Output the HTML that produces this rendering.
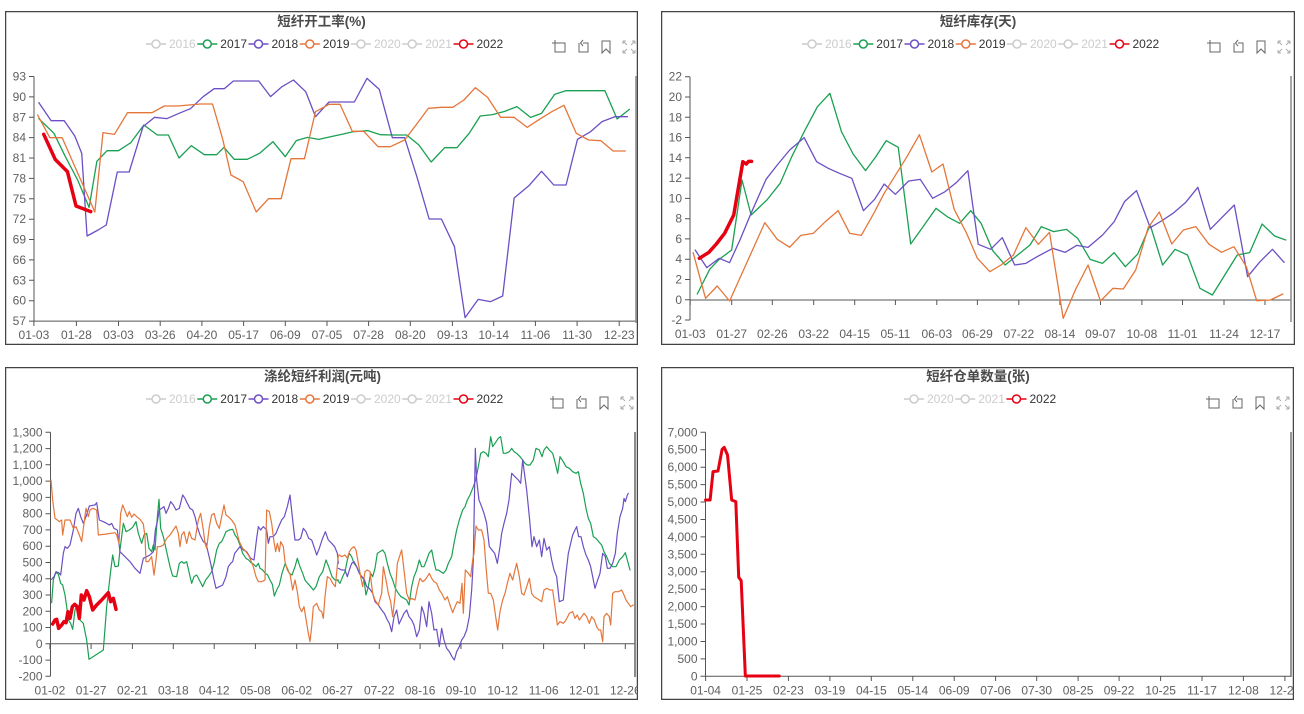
<!DOCTYPE html>
<html>
<head>
<meta charset="utf-8">
<style>
html,body{margin:0;padding:0;background:#fff;}
svg{display:block;}
.t{font-family:"Liberation Sans","Noto Sans CJK SC",sans-serif;font-size:13.5px;font-weight:bold;fill:#4a4a4a;text-anchor:middle;}
.ax{font-family:"Liberation Sans",sans-serif;font-size:12px;fill:#606060;}
.lg{font-family:"Liberation Sans",sans-serif;font-size:12px;}
.s{fill:none;stroke-linejoin:round;stroke-linecap:round;}
</style>
</head>
<body>
<svg width="1304" height="714" viewBox="0 0 1304 714" xmlns="http://www.w3.org/2000/svg">
<defs>
<clipPath id="c1"><rect x="5" y="11" width="633" height="334"/></clipPath>
<clipPath id="c2"><rect x="661" y="11" width="634" height="334"/></clipPath>
<clipPath id="c3"><rect x="5" y="367" width="633" height="333"/></clipPath>
<clipPath id="c4"><rect x="661" y="367" width="633" height="333"/></clipPath>
<g id="tb" fill="none" stroke-width="1">
<path d="M-4,-7 V5 H6 V-4 H-7" stroke="#666"/>
<path d="M20,-4 V5 H29 V-4 H24 M24,-7 L21.5,-4 L24,-1" stroke="#666"/>
<path d="M43,-6 V6 L47,2 L51,6 V-6 Z" stroke="#666"/>
<path d="M64,-6 L68,-2 M64,-6 H67 M64,-6 V-3 M76,-6 L72,-2 M76,-6 H73 M76,-6 V-3 M64,6 L68,2 M64,6 H67 M64,6 V3 M76,6 L72,2 M76,6 H73 M76,6 V3" stroke="#aaa"/>
</g>
<g id="lgi">
<line x1="0" y1="0" x2="20" y2="0" stroke-width="1.5"/>
<circle cx="10" cy="0" r="4" fill="#fff" stroke-width="1.5"/>
</g>
</defs>

<!-- ================= PANEL 1 ================= -->
<g clip-path="url(#c1)">
<rect x="5.5" y="11.5" width="632" height="333" fill="#fff" stroke="#444" stroke-width="1.5"/>
<text class="t" x="321.5" y="26">短纤开工率(%)</text>
<!-- legend -->
<g class="lg">
<g stroke="#ccc" transform="translate(146,44)"><use href="#lgi"/></g><text x="169" y="48" fill="#ccc">2016</text>
<g stroke="#1aa052" transform="translate(197.3,44)"><use href="#lgi"/></g><text x="220.3" y="48" fill="#333">2017</text>
<g stroke="#6c4fc4" transform="translate(248.5,44)"><use href="#lgi"/></g><text x="271.5" y="48" fill="#333">2018</text>
<g stroke="#e5763a" transform="translate(299.8,44)"><use href="#lgi"/></g><text x="322.8" y="48" fill="#333">2019</text>
<g stroke="#ccc" transform="translate(351,44)"><use href="#lgi"/></g><text x="374" y="48" fill="#ccc">2020</text>
<g stroke="#ccc" transform="translate(402.2,44)"><use href="#lgi"/></g><text x="425.2" y="48" fill="#ccc">2021</text>
<g stroke="#e60012" transform="translate(453.5,44)"><use href="#lgi"/></g><text x="476.5" y="48" fill="#333">2022</text>
</g>
<use href="#tb" x="559" y="47"/>
<!-- axes -->
<g stroke="#555" stroke-width="1" fill="none">
<line x1="34" y1="76.5" x2="34" y2="321.1"/>
<line x1="34" y1="321.1" x2="636" y2="321.1"/>
<path d="M29,76.5H34 M29,96.9H34 M29,117.3H34 M29,137.6H34 M29,158H34 M29,178.4H34 M29,198.8H34 M29,219.2H34 M29,239.5H34 M29,259.9H34 M29,280.3H34 M29,300.7H34 M29,321.1H34"/>
<path d="M33.9,321V326 M76.4,321V326 M118.5,321V326 M160.2,321V326 M201.9,321V326 M243.6,321V326 M285.3,321V326 M327,321V326 M368.6,321V326 M410.3,321V326 M452.4,321V326 M493.7,321V326 M535.4,321V326 M577.1,321V326 M619.2,321V326"/>
</g>
<line x1="636" y1="76" x2="636" y2="323" stroke="#888" stroke-width="1.5"/>
<g class="ax" text-anchor="end">
<text x="26" y="80.5">93</text><text x="26" y="100.9">90</text><text x="26" y="121.3">87</text><text x="26" y="141.6">84</text><text x="26" y="162">81</text><text x="26" y="182.4">78</text><text x="26" y="202.8">75</text><text x="26" y="223.2">72</text><text x="26" y="243.5">69</text><text x="26" y="263.9">66</text><text x="26" y="284.3">63</text><text x="26" y="304.7">60</text><text x="26" y="325.1">57</text>
</g>
<g class="ax" text-anchor="middle">
<text x="33.9" y="339">01-03</text><text x="76.4" y="339">01-28</text><text x="118.5" y="339">03-03</text><text x="160.2" y="339">03-26</text><text x="201.9" y="339">04-20</text><text x="243.6" y="339">05-17</text><text x="285.3" y="339">06-09</text><text x="327" y="339">07-05</text><text x="368.6" y="339">07-28</text><text x="410.3" y="339">08-20</text><text x="452.4" y="339">09-13</text><text x="493.7" y="339">10-14</text><text x="535.4" y="339">11-06</text><text x="577.1" y="339">11-30</text><text x="619.2" y="339">12-23</text>
</g>
<g transform="matrix(0.4087,0,0,0.33333,0,0)">
<polyline class="s" vector-effect="non-scaling-stroke" stroke="#1aa052" stroke-width="1.3" points="95,356 132,400 160,470 190,540 218,622 237,484 262,452 290,452 320,428 352,375 385,405 412,405 438,474 468,437 500,464 530,464 548,442 573,478 605,478 635,460 668,425 698,470 725,422 752,412 780,418 810,410 840,402 865,395 900,392 930,404 960,405 995,405 1025,435 1055,486 1088,443 1118,443 1148,400 1175,348 1205,344 1235,334 1265,320 1298,352 1325,340 1357,283 1385,272 1480,272 1510,357 1540,328"/>
<polyline class="s" vector-effect="non-scaling-stroke" stroke="#6c4fc4" stroke-width="1.3" points="95,308 125,362 157,362 183,408 200,460 213,708 240,690 260,675 287,516 316,516 350,380 378,352 408,356 438,340 466,326 497,290 524,266 549,266 571,243 633,243 662,290 690,260 718,240 748,275 772,350 805,306 867,306 898,235 928,268 960,413 990,413 1020,530 1050,657 1080,657 1112,740 1138,953 1170,898 1200,905 1230,888 1258,594 1295,556 1325,514 1355,555 1385,555 1413,418 1445,395 1473,365 1505,350 1535,350"/>
<polyline class="s" vector-effect="non-scaling-stroke" stroke="#e5763a" stroke-width="1.3" points="92,345 122,413 152,413 232,636 252,398 280,403 312,338 345,338 372,338 402,318 435,318 490,312 520,312 545,418 565,525 595,545 627,636 657,596 688,596 712,476 745,476 772,335 805,313 832,313 862,394 890,394 925,440 955,440 990,420 1018,375 1048,325 1080,322 1108,322 1135,300 1163,263 1193,292 1225,352 1258,352 1290,382 1320,358 1350,335 1380,316 1410,400 1440,420 1470,422 1500,453 1530,453"/>
<polyline class="s" vector-effect="non-scaling-stroke" stroke="#e60012" stroke-width="3.5" points="107,403 135,478 165,515 186,618 222,635"/>
</g>
</g>

<!-- ================= PANEL 2 ================= -->
<g clip-path="url(#c2)">
<rect x="661.5" y="11.5" width="633" height="333" fill="#fff" stroke="#444" stroke-width="1.5"/>
<text class="t" x="978" y="26">短纤库存(天)</text>
<g class="lg">
<g stroke="#ccc" transform="translate(802,44)"><use href="#lgi"/></g><text x="825" y="48" fill="#ccc">2016</text>
<g stroke="#1aa052" transform="translate(853.3,44)"><use href="#lgi"/></g><text x="876.3" y="48" fill="#333">2017</text>
<g stroke="#6c4fc4" transform="translate(904.5,44)"><use href="#lgi"/></g><text x="927.5" y="48" fill="#333">2018</text>
<g stroke="#e5763a" transform="translate(955.8,44)"><use href="#lgi"/></g><text x="978.8" y="48" fill="#333">2019</text>
<g stroke="#ccc" transform="translate(1007,44)"><use href="#lgi"/></g><text x="1030" y="48" fill="#ccc">2020</text>
<g stroke="#ccc" transform="translate(1058.2,44)"><use href="#lgi"/></g><text x="1081.2" y="48" fill="#ccc">2021</text>
<g stroke="#e60012" transform="translate(1109.5,44)"><use href="#lgi"/></g><text x="1132.5" y="48" fill="#333">2022</text>
</g>
<use href="#tb" x="1214" y="47"/>
<g stroke="#555" stroke-width="1" fill="none">
<line x1="690" y1="76.7" x2="690" y2="320"/>
<line x1="690" y1="300" x2="1291" y2="300"/>
<path d="M685,76.7H690 M685,97H690 M685,117.3H690 M685,137.5H690 M685,157.8H690 M685,178.1H690 M685,198.4H690 M685,218.7H690 M685,238.9H690 M685,259.2H690 M685,279.5H690 M685,299.8H690 M685,320H690"/>
<path d="M690.2,300V305 M731.7,300V305 M772.3,300V305 M813.7,300V305 M854.7,300V305 M895.4,300V305 M936.8,300V305 M977.4,300V305 M1018.8,300V305 M1059.9,300V305 M1100.5,300V305 M1141.9,300V305 M1182.5,300V305 M1224,300V305 M1265,300V305"/>
</g>
<line x1="1291" y1="76" x2="1291" y2="322" stroke="#888" stroke-width="1.5"/>
<g class="ax" text-anchor="end">
<text x="682" y="80.7">22</text><text x="682" y="101">20</text><text x="682" y="121.3">18</text><text x="682" y="141.5">16</text><text x="682" y="161.8">14</text><text x="682" y="182.1">12</text><text x="682" y="202.4">10</text><text x="682" y="222.7">8</text><text x="682" y="242.9">6</text><text x="682" y="263.2">4</text><text x="682" y="283.5">2</text><text x="682" y="303.8">0</text><text x="682" y="324">-2</text>
</g>
<g class="ax" text-anchor="middle">
<text x="690.2" y="338">01-03</text><text x="731.7" y="338">01-27</text><text x="772.3" y="338">02-26</text><text x="813.7" y="338">03-22</text><text x="854.7" y="338">04-15</text><text x="895.4" y="338">05-11</text><text x="936.8" y="338">06-03</text><text x="977.4" y="338">06-29</text><text x="1018.8" y="338">07-22</text><text x="1059.9" y="338">08-14</text><text x="1100.5" y="338">09-07</text><text x="1141.9" y="338">10-08</text><text x="1182.5" y="338">11-01</text><text x="1224" y="338">11-24</text><text x="1265" y="338">12-17</text>
</g>
<g transform="matrix(0.4144,0,0,0.33333,655,0)">
<polyline class="s" vector-effect="non-scaling-stroke" stroke="#1aa052" stroke-width="1.3" points="102,882 132,808 155,778 185,750 210,540 232,645 270,600 302,550 330,470 360,395 392,320 422,280 450,395 478,462 508,512 533,470 558,422 587,442 617,732 647,680 678,625 705,650 735,670 762,632 787,670 815,752 845,795 870,770 905,735 932,680 962,695 993,688 1020,715 1050,778 1080,790 1108,758 1135,800 1165,762 1195,675 1225,795 1255,748 1285,765 1315,865 1345,885 1375,825 1405,765 1435,758 1465,672 1495,708 1522,720"/>
<polyline class="s" vector-effect="non-scaling-stroke" stroke="#6c4fc4" stroke-width="1.3" points="97,750 125,803 155,775 180,788 205,720 230,645 268,538 295,495 325,450 360,413 390,485 418,505 445,520 475,535 503,632 530,598 553,552 580,583 612,543 640,538 670,595 700,575 727,548 755,512 780,733 810,748 838,713 868,795 895,790 922,770 960,745 990,757 1018,736 1045,742 1080,705 1108,665 1133,605 1162,572 1195,683 1222,663 1250,640 1280,608 1310,562 1340,688 1370,650 1398,615 1430,830 1460,785 1490,748 1518,787"/>
<polyline class="s" vector-effect="non-scaling-stroke" stroke="#e5763a" stroke-width="1.3" points="92,758 122,895 150,858 180,903 265,668 295,718 325,742 352,706 382,700 412,664 442,632 470,700 498,706 528,640 553,580 583,520 608,470 638,404 668,516 695,492 722,628 752,700 778,775 808,815 835,795 865,765 895,683 925,733 952,697 985,955 1015,868 1045,795 1075,903 1105,865 1130,867 1160,810 1190,683 1217,636 1247,732 1275,690 1305,680 1337,733 1367,757 1397,740 1427,800 1452,902 1485,900 1515,882"/>
<polyline class="s" vector-effect="non-scaling-stroke" stroke="#e60012" stroke-width="3.5" points="107,775 130,757 148,732 168,700 190,645 212,485 220,492 226,484 233,484"/>
</g>
</g>

<!-- ================= PANEL 3 ================= -->
<g clip-path="url(#c3)">
<rect x="5.5" y="367.5" width="632" height="332" fill="#fff" stroke="#444" stroke-width="1.5"/>
<text class="t" x="322.5" y="381">涤纶短纤利润(元吨)</text>
<g class="lg">
<g stroke="#ccc" transform="translate(146,399)"><use href="#lgi"/></g><text x="169" y="403" fill="#ccc">2016</text>
<g stroke="#1aa052" transform="translate(197.3,399)"><use href="#lgi"/></g><text x="220.3" y="403" fill="#333">2017</text>
<g stroke="#6c4fc4" transform="translate(248.5,399)"><use href="#lgi"/></g><text x="271.5" y="403" fill="#333">2018</text>
<g stroke="#e5763a" transform="translate(299.8,399)"><use href="#lgi"/></g><text x="322.8" y="403" fill="#333">2019</text>
<g stroke="#ccc" transform="translate(351,399)"><use href="#lgi"/></g><text x="374" y="403" fill="#ccc">2020</text>
<g stroke="#ccc" transform="translate(402.2,399)"><use href="#lgi"/></g><text x="425.2" y="403" fill="#ccc">2021</text>
<g stroke="#e60012" transform="translate(453.5,399)"><use href="#lgi"/></g><text x="476.5" y="403" fill="#333">2022</text>
</g>
<use href="#tb" x="557" y="403"/>
<g stroke="#555" stroke-width="1" fill="none">
<line x1="50.5" y1="432.3" x2="50.5" y2="676.3"/>
<line x1="50.5" y1="643.8" x2="635" y2="643.8"/>
<path d="M45.5,432.3H50.5 M45.5,448.6H50.5 M45.5,464.8H50.5 M45.5,481.1H50.5 M45.5,497.4H50.5 M45.5,513.7H50.5 M45.5,529.9H50.5 M45.5,546.2H50.5 M45.5,562.5H50.5 M45.5,578.7H50.5 M45.5,595H50.5 M45.5,611.3H50.5 M45.5,627.5H50.5 M45.5,643.8H50.5 M45.5,660.1H50.5 M45.5,676.3H50.5"/>
<path d="M49.9,644V649 M91.1,644V649 M132.4,644V649 M173.3,644V649 M214.2,644V649 M255.4,644V649 M296.7,644V649 M337.6,644V649 M379.3,644V649 M420.1,644V649 M461,644V649 M502.7,644V649 M543.6,644V649 M584.4,644V649 M625.3,644V649"/>
</g>
<line x1="635" y1="432" x2="635" y2="677" stroke="#666" stroke-width="1.5"/>
<g class="ax" text-anchor="end">
<text x="42.5" y="436.3">1,300</text><text x="42.5" y="452.6">1,200</text><text x="42.5" y="468.8">1,100</text><text x="42.5" y="485.1">1,000</text><text x="42.5" y="501.4">900</text><text x="42.5" y="517.7">800</text><text x="42.5" y="533.9">700</text><text x="42.5" y="550.2">600</text><text x="42.5" y="566.5">500</text><text x="42.5" y="582.7">400</text><text x="42.5" y="599">300</text><text x="42.5" y="615.3">200</text><text x="42.5" y="631.5">100</text><text x="42.5" y="647.8">0</text><text x="42.5" y="664.1">-100</text><text x="42.5" y="680.3">-200</text>
</g>
<g class="ax" text-anchor="middle">
<text x="49.9" y="694.5">01-02</text><text x="91.1" y="694.5">01-27</text><text x="132.4" y="694.5">02-21</text><text x="173.3" y="694.5">03-18</text><text x="214.2" y="694.5">04-12</text><text x="255.4" y="694.5">05-08</text><text x="296.7" y="694.5">06-02</text><text x="337.6" y="694.5">06-27</text><text x="379.3" y="694.5">07-22</text><text x="420.1" y="694.5">08-16</text><text x="461" y="694.5">09-10</text><text x="502.7" y="694.5">10-12</text><text x="543.6" y="694.5">11-06</text><text x="584.4" y="694.5">12-01</text><text x="625.3" y="694.5">12-26</text>
</g>
<g transform="matrix(0.33333,0,0,0.33333,40,420)">
<polyline class="s" vector-effect="non-scaling-stroke" stroke="#1aa052" stroke-width="1.2" points="35,548 40,480 47,458 55,462 62,490 68,495 75,525 80,560 85,600 92,610 98,628 105,570 110,555 115,590 120,600 130,610 140,660 147,718 190,690 200,560 210,470 218,405 225,440 235,438 240,390 250,310 258,335 268,330 278,322 288,305 295,340 305,370 312,345 320,340 327,385 335,395 340,375 345,390 352,290 357,238 362,325 370,350 380,395 390,440 398,468 410,470 418,430 425,425 432,430 440,425 448,460 455,490 462,470 470,465 478,480 488,500 497,480 505,470 515,455 522,430 530,390 538,370 545,365 552,350 558,335 568,330 578,328 585,345 592,355 600,375 608,400 618,415 626,420 633,428 640,432 648,440 655,430 660,445 668,450 676,460 683,465 690,480 697,493 703,528 710,510 718,495 726,460 735,432 742,445 748,460 756,465 765,440 772,415 780,440 788,460 795,480 803,490 812,500 820,510 828,500 838,470 848,455 858,420 866,440 876,470 885,480 895,480"/>
<polyline class="s" vector-effect="non-scaling-stroke" stroke="#6c4fc4" stroke-width="1.2" points="35,478 42,470 48,455 56,458 62,465 70,400 75,380 82,385 90,375 100,330 108,280 115,265 122,290 130,310 138,290 148,258 158,256 165,255 170,248 178,300 190,305 200,310 208,315 215,310 222,325 232,330 240,395 255,410 270,425 285,445 300,460 310,415 320,410 330,405 340,395 346,330 352,305 358,270 365,265 372,260 378,280 385,265 392,245 400,255 408,270 418,265 428,225 435,235 442,250 450,265 458,270 465,290 472,320 480,345 490,365 498,370 505,400 512,430 520,470 528,505 538,500 548,495 558,470 565,440 572,430 578,425 584,400 592,390 600,380 610,390 620,395 632,415 642,420 650,355 655,320 662,330 670,320 680,330 685,370 690,350 700,350 708,340 716,320 725,300 733,290 742,260 750,225 758,300 765,360 775,360 782,355 790,325 798,335 806,355 815,360 822,380 830,405 838,385 846,360 856,335 865,360 875,370 884,380 892,400 895,430"/>
<polyline class="s" vector-effect="non-scaling-stroke" stroke="#e5763a" stroke-width="1.2" points="33,180 38,240 45,295 52,300 58,305 65,300 68,345 75,300 90,300 100,325 108,320 118,345 125,365 132,310 138,265 145,290 150,270 158,265 165,268 170,270 175,345 200,342 225,338 230,345 237,370 242,280 248,255 255,272 262,290 268,275 275,292 282,282 290,290 300,298 310,312 315,350 318,425 325,425 335,410 342,465 348,420 352,380 360,380 370,375 380,355 390,345 400,330 408,318 415,340 420,380 425,345 432,335 440,370 448,335 455,355 465,360 475,300 482,280 490,330 495,370 500,385 508,320 515,285 522,280 530,310 538,325 545,290 552,255 558,285 565,290 575,300 585,315 590,335 598,365 608,385 618,395 628,410 640,440 648,470 655,485 665,485 675,480 680,270 688,275 695,310 702,365 707,395 712,370 718,395 722,365 730,380 735,425 742,450 750,462 758,510 765,480 772,515 778,560 785,575 792,560 800,610 805,640 810,665 815,620 820,560 830,550 838,570 845,575 850,595 855,530 862,470 870,475 878,490 886,500 895,405"/>
<polyline class="s" vector-effect="non-scaling-stroke" stroke="#e60012" stroke-width="3.5" points="38,612 45,600 50,598 56,625 65,615 72,605 78,608 84,575 90,595 97,560 104,553 112,560 118,595 124,525 132,540 140,512 148,530 158,570 170,555 185,540 205,518 212,545 220,535 228,568"/>
</g>
<g transform="matrix(0.33333,0,0,0.33333,330,420)">
<polyline class="s" vector-effect="non-scaling-stroke" stroke="#1aa052" stroke-width="1.2" points="22,480 30,490 38,470 45,455 52,420 58,400 65,410 72,430 80,440 88,460 95,470 102,480 108,525 115,500 122,460 128,470 135,445 142,400 150,395 158,390 165,400 172,430 180,460 188,480 196,505 205,520 213,530 222,535 230,540 237,555 245,500 252,470 260,450 268,420 275,440 282,440 290,420 297,400 305,390 312,425 318,450 325,450 332,455 340,460 348,450 355,430 365,410 372,370 380,330 388,300 398,270 405,260 412,240 420,225 430,200 437,180 445,140 452,100 460,95 468,100 475,110 482,50 488,80 495,70 505,55 512,50 520,100 528,100 538,95 545,85 552,95 560,100 570,110 578,120 585,130 592,135 600,135 610,120 618,85 628,90 636,110 642,90 650,80 658,90 668,100 676,130 683,160 690,110 700,125 708,140 718,145 728,155 738,160 745,155 752,190 760,220 768,265 775,295 782,310 790,350 798,355 806,365 815,375 822,395 830,410 838,430 848,440 858,440 868,420 878,410 886,398 892,420 900,450"/>
<polyline class="s" vector-effect="non-scaling-stroke" stroke="#6c4fc4" stroke-width="1.2" points="25,445 35,450 45,450 52,470 58,450 65,430 72,425 80,440 88,460 95,470 102,475 110,500 118,505 128,520 135,545 145,555 155,570 163,580 172,600 178,610 185,635 192,590 200,570 207,612 215,595 222,580 230,570 237,590 245,600 252,615 260,650 268,630 275,560 282,580 290,620 297,545 305,580 312,630 320,628 328,680 335,625 342,660 350,685 358,695 366,710 373,720 380,695 388,680 395,660 402,650 410,630 418,590 425,510 430,420 433,250 436,85 440,180 447,240 455,260 462,280 470,310 478,380 486,390 494,400 502,430 510,380 515,340 522,310 530,280 537,240 545,160 555,170 565,180 572,190 578,120 582,150 590,210 598,290 606,380 612,350 620,380 628,360 635,410 642,355 650,390 658,380 665,420 672,450 680,470 688,545 700,540 708,460 715,400 722,370 728,345 735,330 740,320 746,350 753,350 760,380 768,405 775,420 782,440 790,480 795,505 803,480 810,460 818,400 826,410 832,445 840,445 848,430 856,400 862,340 870,290 878,265 882,235 886,245 892,225 895,220"/>
<polyline class="s" vector-effect="non-scaling-stroke" stroke="#e5763a" stroke-width="1.2" points="28,405 35,410 45,405 52,415 58,395 65,385 72,380 78,390 85,430 92,470 98,500 105,455 112,450 120,455 128,520 135,540 145,555 155,520 160,440 168,480 175,520 182,545 188,590 195,530 202,430 210,405 215,390 222,450 230,520 238,540 245,535 255,540 262,505 270,475 278,485 285,480 292,470 298,460 305,475 312,485 320,490 328,510 335,520 345,540 352,530 360,555 368,578 375,560 382,545 390,550 396,490 400,580 406,450 415,460 422,470 428,420 432,400 438,318 445,330 455,330 462,360 468,440 475,520 482,520 490,540 497,590 503,630 510,575 518,540 525,520 532,490 540,460 548,480 555,450 560,430 568,470 575,520 582,525 590,500 598,475 605,520 612,530 620,535 628,540 635,545 642,510 650,505 660,510 668,510 675,560 682,615 690,605 700,610 708,600 718,580 728,575 735,595 742,585 748,600 755,590 762,580 770,590 778,610 785,590 793,600 800,620 806,630 812,630 818,665 822,590 830,580 838,590 842,615 848,520 855,515 865,515 875,510 882,525 888,540 895,550 902,560 910,555"/>
</g>
</g>

<!-- ================= PANEL 4 ================= -->
<g clip-path="url(#c4)">
<rect x="661.5" y="367.5" width="632" height="332" fill="#fff" stroke="#444" stroke-width="1.5"/>
<text class="t" x="978" y="381">短纤仓单数量(张)</text>
<g class="lg">
<g stroke="#ccc" transform="translate(904,399)"><use href="#lgi"/></g><text x="927" y="403" fill="#ccc">2020</text>
<g stroke="#ccc" transform="translate(955.2,399)"><use href="#lgi"/></g><text x="978.2" y="403" fill="#ccc">2021</text>
<g stroke="#e60012" transform="translate(1006.5,399)"><use href="#lgi"/></g><text x="1029.5" y="403" fill="#333">2022</text>
</g>
<use href="#tb" x="1213" y="403"/>
<g stroke="#555" stroke-width="1" fill="none">
<line x1="705.5" y1="432.3" x2="705.5" y2="676.3"/>
<line x1="705.5" y1="676.3" x2="1291" y2="676.3"/>
<path d="M700.5,432.3H705.5 M700.5,449.7H705.5 M700.5,467.2H705.5 M700.5,484.6H705.5 M700.5,502H705.5 M700.5,519.5H705.5 M700.5,536.9H705.5 M700.5,554.3H705.5 M700.5,571.7H705.5 M700.5,589.2H705.5 M700.5,606.6H705.5 M700.5,624H705.5 M700.5,641.5H705.5 M700.5,658.9H705.5 M700.5,676.3H705.5"/>
<path d="M705.6,676V681 M747,676V681 M788.4,676V681 M829.9,676V681 M871.3,676V681 M912.8,676V681 M954.2,676V681 M995.6,676V681 M1036.7,676V681 M1078.1,676V681 M1119.1,676V681 M1160.6,676V681 M1202,676V681 M1243.4,676V681 M1284.9,676V681"/>
</g>
<line x1="1291" y1="432" x2="1291" y2="677" stroke="#777" stroke-width="1.5"/>
<g class="ax" text-anchor="end">
<text x="697.5" y="436.3">7,000</text><text x="697.5" y="453.7">6,500</text><text x="697.5" y="471.2">6,000</text><text x="697.5" y="488.6">5,500</text><text x="697.5" y="506">5,000</text><text x="697.5" y="523.5">4,500</text><text x="697.5" y="540.9">4,000</text><text x="697.5" y="558.3">3,500</text><text x="697.5" y="575.7">3,000</text><text x="697.5" y="593.2">2,500</text><text x="697.5" y="610.6">2,000</text><text x="697.5" y="628">1,500</text><text x="697.5" y="645.5">1,000</text><text x="697.5" y="662.9">500</text><text x="697.5" y="680.3">0</text>
</g>
<g class="ax" text-anchor="middle">
<text x="705.6" y="694.5">01-04</text><text x="747" y="694.5">01-25</text><text x="788.4" y="694.5">02-23</text><text x="829.9" y="694.5">03-19</text><text x="871.3" y="694.5">04-15</text><text x="912.8" y="694.5">05-14</text><text x="954.2" y="694.5">06-09</text><text x="995.6" y="694.5">07-06</text><text x="1036.7" y="694.5">07-30</text><text x="1078.1" y="694.5">08-25</text><text x="1119.1" y="694.5">09-22</text><text x="1160.6" y="694.5">10-25</text><text x="1202" y="694.5">11-17</text><text x="1243.4" y="694.5">12-08</text><text x="1284.9" y="694.5">12-29</text>
</g>
<g transform="matrix(0.4144,0,0,0.33333,655,360)">
<polyline class="s" vector-effect="non-scaling-stroke" stroke="#e60012" stroke-width="3" points="122,420 133,420 140,335 152,333 162,268 167,262 175,285 185,420 195,425 202,652 208,662 218,948 300,948"/>
</g>
</g>
</svg>
</body>
</html>
